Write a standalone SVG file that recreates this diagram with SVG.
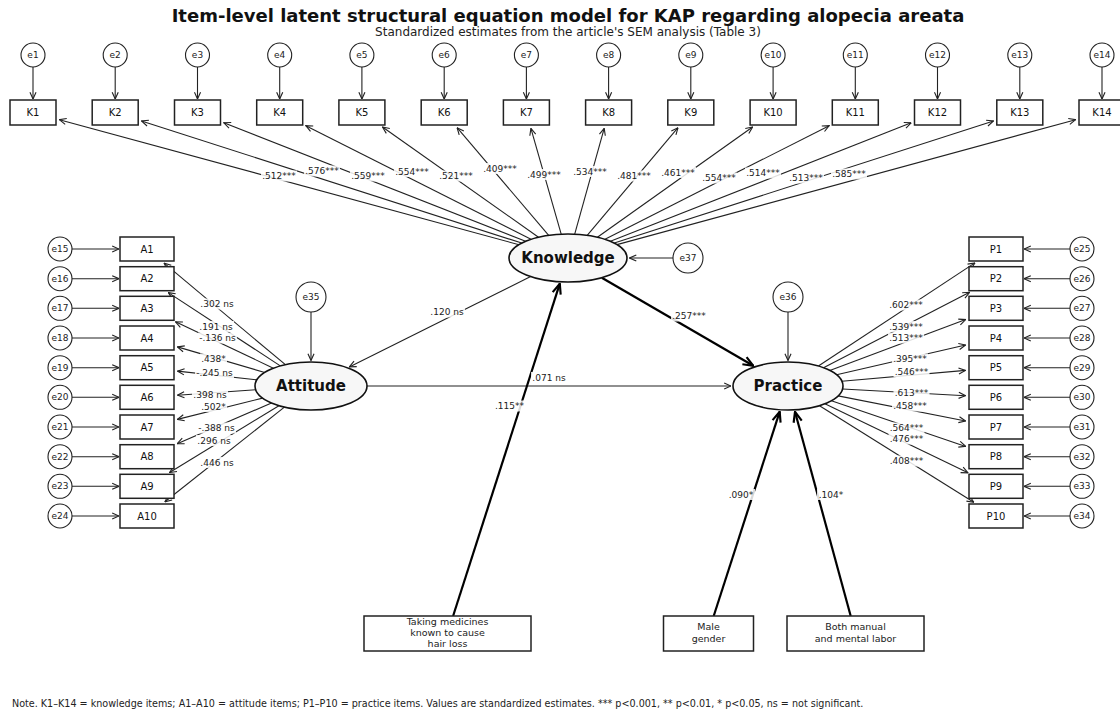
<svg xmlns="http://www.w3.org/2000/svg" width="1120" height="711" viewBox="0 0 1120 711">
<style>
text{font-family:"DejaVu Sans","Liberation Sans",sans-serif;fill:#111}
.title{font-size:18px;font-weight:bold;text-anchor:middle}
.sub{font-size:12px;text-anchor:middle;fill:#222}
.note{font-size:9.6px;fill:#222}
.box{fill:#fff;stroke:#222;stroke-width:1.5}
.err{fill:#fff;stroke:#222;stroke-width:1.1}
.lat{fill:#f7f7f7;stroke:#111;stroke-width:1.6}
.nt{font-size:10px;text-anchor:middle;dominant-baseline:central}
.et{font-size:9px;text-anchor:middle;dominant-baseline:central;fill:#222}
.lt{font-size:15px;font-weight:bold;text-anchor:middle;dominant-baseline:central}
.ct{font-size:9.5px;text-anchor:middle;fill:#222}
.ln{fill:none;stroke:#222;stroke-width:1.1;marker-end:url(#ah)}
.thick{fill:none;stroke:#000;stroke-width:2.2;marker-end:url(#ahb)}
.lbl rect{fill:#fff;fill-opacity:0.85}
.lbl text{font-size:9px;text-anchor:middle;dominant-baseline:central;fill:#222}
</style>
<defs>
<marker id="ah" viewBox="0 0 10 10" refX="9.5" refY="5" markerWidth="8" markerHeight="8" markerUnits="userSpaceOnUse" orient="auto"><path d="M1,1.2 L9.5,5 L1,8.8" fill="none" stroke="#222" stroke-width="1.4"/></marker>
<marker id="ahb" viewBox="0 0 10 10" refX="9.5" refY="5" markerWidth="12" markerHeight="12" markerUnits="userSpaceOnUse" orient="auto"><path d="M1,1.5 L9.5,5 L1,8.5" fill="none" stroke="#000" stroke-width="1.8"/></marker>
</defs>
<rect width="1120" height="711" fill="#fff"/>
<text class="title" x="568" y="22">Item-level latent structural equation model for KAP regarding alopecia areata</text>
<text class="sub" x="568" y="36">Standardized estimates from the article's SEM analysis (Table 3)</text>

<g id="connectors">
<line class="ln" x1="33" y1="67" x2="33" y2="99"/>
<line class="ln" x1="115.2" y1="67" x2="115.2" y2="99"/>
<line class="ln" x1="197.5" y1="67" x2="197.5" y2="99"/>
<line class="ln" x1="279.7" y1="67" x2="279.7" y2="99"/>
<line class="ln" x1="361.9" y1="67" x2="361.9" y2="99"/>
<line class="ln" x1="444.2" y1="67" x2="444.2" y2="99"/>
<line class="ln" x1="526.4" y1="67" x2="526.4" y2="99"/>
<line class="ln" x1="608.6" y1="67" x2="608.6" y2="99"/>
<line class="ln" x1="690.8" y1="67" x2="690.8" y2="99"/>
<line class="ln" x1="773.1" y1="67" x2="773.1" y2="99"/>
<line class="ln" x1="855.3" y1="67" x2="855.3" y2="99"/>
<line class="ln" x1="937.5" y1="67" x2="937.5" y2="99"/>
<line class="ln" x1="1019.8" y1="67" x2="1019.8" y2="99"/>
<line class="ln" x1="1102" y1="67" x2="1102" y2="99"/>
<line class="ln" x1="72" y1="249" x2="119" y2="249"/>
<line class="ln" x1="72" y1="278.7" x2="119" y2="278.7"/>
<line class="ln" x1="72" y1="308.3" x2="119" y2="308.3"/>
<line class="ln" x1="72" y1="338" x2="119" y2="338"/>
<line class="ln" x1="72" y1="367.7" x2="119" y2="367.7"/>
<line class="ln" x1="72" y1="397.3" x2="119" y2="397.3"/>
<line class="ln" x1="72" y1="427" x2="119" y2="427"/>
<line class="ln" x1="72" y1="456.7" x2="119" y2="456.7"/>
<line class="ln" x1="72" y1="486.3" x2="119" y2="486.3"/>
<line class="ln" x1="72" y1="516" x2="119" y2="516"/>
<line class="ln" x1="1070" y1="249" x2="1024" y2="249"/>
<line class="ln" x1="1070" y1="278.7" x2="1024" y2="278.7"/>
<line class="ln" x1="1070" y1="308.3" x2="1024" y2="308.3"/>
<line class="ln" x1="1070" y1="338" x2="1024" y2="338"/>
<line class="ln" x1="1070" y1="367.7" x2="1024" y2="367.7"/>
<line class="ln" x1="1070" y1="397.3" x2="1024" y2="397.3"/>
<line class="ln" x1="1070" y1="427" x2="1024" y2="427"/>
<line class="ln" x1="1070" y1="456.7" x2="1024" y2="456.7"/>
<line class="ln" x1="1070" y1="486.3" x2="1024" y2="486.3"/>
<line class="ln" x1="1070" y1="516" x2="1024" y2="516"/>
<line class="ln" x1="673" y1="258" x2="629.5" y2="258"/>
<line class="ln" x1="311" y1="312" x2="311" y2="360.5"/>
<line class="ln" x1="788" y1="312" x2="788" y2="360.5"/>
<line class="ln" x1="519" y1="244.7" x2="59.4" y2="119.7"/>
<line class="ln" x1="521.7" y1="243.1" x2="141.5" y2="121"/>
<line class="ln" x1="525.6" y1="241.3" x2="223.8" y2="122.8"/>
<line class="ln" x1="531" y1="239.3" x2="305.8" y2="125.7"/>
<line class="ln" x1="538.5" y1="237.2" x2="382.5" y2="127"/>
<line class="ln" x1="548.7" y1="235.3" x2="457.1" y2="127.7"/>
<line class="ln" x1="561.2" y1="234.2" x2="530.9" y2="128.4"/>
<line class="ln" x1="574.7" y1="234.2" x2="604.2" y2="128.4"/>
<line class="ln" x1="587.2" y1="235.3" x2="678" y2="127.7"/>
<line class="ln" x1="597.4" y1="237.2" x2="752.6" y2="127"/>
<line class="ln" x1="605" y1="239.3" x2="829.2" y2="125.7"/>
<line class="ln" x1="610.4" y1="241.3" x2="911.2" y2="122.8"/>
<line class="ln" x1="614.3" y1="243.1" x2="993.5" y2="121"/>
<line class="ln" x1="617" y1="244.6" x2="1075.6" y2="119.7"/>
<line class="ln" x1="285.4" y1="364.7" x2="164.1" y2="263.2"/>
<line class="ln" x1="280.3" y1="365.9" x2="168.3" y2="292.6"/>
<line class="ln" x1="273.4" y1="368.2" x2="175.5" y2="321.8"/>
<line class="ln" x1="264.8" y1="372.5" x2="177.4" y2="346.9"/>
<line class="ln" x1="256.8" y1="379.9" x2="177.5" y2="371.1"/>
<line class="ln" x1="255.7" y1="389.8" x2="177.5" y2="395.2"/>
<line class="ln" x1="262.6" y1="398.1" x2="177.4" y2="419.4"/>
<line class="ln" x1="271.5" y1="403" x2="177.2" y2="443.7"/>
<line class="ln" x1="278.9" y1="405.7" x2="169.6" y2="472.5"/>
<line class="ln" x1="284.4" y1="407.1" x2="164.9" y2="501.8"/>
<line class="ln" x1="818.4" y1="366" x2="974.9" y2="262.9"/>
<line class="ln" x1="823.5" y1="367.7" x2="969.6" y2="292.3"/>
<line class="ln" x1="829.8" y1="370.4" x2="965.7" y2="319.6"/>
<line class="ln" x1="836.6" y1="374.8" x2="965.6" y2="345"/>
<line class="ln" x1="841.9" y1="381.3" x2="965.5" y2="370.4"/>
<line class="ln" x1="842.6" y1="389" x2="965.5" y2="395.7"/>
<line class="ln" x1="838.1" y1="395.9" x2="965.6" y2="421"/>
<line class="ln" x1="831.4" y1="400.7" x2="965.7" y2="446.4"/>
<line class="ln" x1="824.9" y1="403.8" x2="968" y2="472.8"/>
<line class="ln" x1="819.5" y1="405.7" x2="973.8" y2="502.2"/>
<line class="ln" x1="530.7" y1="276.6" x2="349.3" y2="366.9"/>
<line class="ln" x1="367" y1="386" x2="731" y2="386"/>
<line class="thick" x1="601.8" y1="277.7" x2="753.3" y2="365.8"/>
<line class="thick" x1="453.1" y1="616" x2="559.8" y2="283.7"/>
<line class="thick" x1="713.7" y1="616" x2="779.7" y2="411.7"/>
<line class="thick" x1="850.7" y1="616" x2="795" y2="411.8"/>
</g>

<g id="connector-labels" class="lbl">
<rect x="261" y="170.5" width="36" height="11"/><text x="279" y="176">.512***</text>
<rect x="304" y="165.5" width="36" height="11"/><text x="322" y="171">.576***</text>
<rect x="350" y="170.5" width="36" height="11"/><text x="368" y="176">.559***</text>
<rect x="394" y="166" width="36" height="11"/><text x="412" y="171.5">.554***</text>
<rect x="438" y="170.5" width="36" height="11"/><text x="456" y="176">.521***</text>
<rect x="482" y="163" width="36" height="11"/><text x="500" y="168.5">.409***</text>
<rect x="526" y="169" width="36" height="11"/><text x="544" y="174.5">.499***</text>
<rect x="572" y="166" width="36" height="11"/><text x="590" y="171.5">.534***</text>
<rect x="616" y="170.5" width="36" height="11"/><text x="634" y="176">.481***</text>
<rect x="660" y="167" width="36" height="11"/><text x="678" y="172.5">.461***</text>
<rect x="701" y="172.5" width="36" height="11"/><text x="719" y="178">.554***</text>
<rect x="745" y="167.5" width="36" height="11"/><text x="763" y="173">.514***</text>
<rect x="788" y="172.5" width="36" height="11"/><text x="806" y="178">.513***</text>
<rect x="831" y="168.5" width="36" height="11"/><text x="849" y="174">.585***</text>

<rect x="199" y="298.5" width="36" height="11"/><text x="217" y="304">.302 ns</text>
<rect x="198" y="321" width="36" height="11"/><text x="216" y="326.5">.191 ns</text>
<rect x="198" y="332.5" width="39" height="11"/><text x="217.5" y="338">-.136 ns</text>
<rect x="200" y="353.5" width="27" height="11"/><text x="213.5" y="359">.438*</text>
<rect x="195" y="367" width="39" height="11"/><text x="214.5" y="372.5">-.245 ns</text>
<rect x="192" y="389" width="36" height="11"/><text x="210" y="394.5">.398 ns</text>
<rect x="200" y="401" width="27" height="11"/><text x="213.5" y="406.5">.502*</text>
<rect x="197" y="422.5" width="39" height="11"/><text x="216.5" y="428">-.388 ns</text>
<rect x="196" y="435" width="36" height="11"/><text x="214" y="440.5">.296 ns</text>
<rect x="199" y="457" width="36" height="11"/><text x="217" y="462.5">.446 ns</text>

<rect x="888" y="299.5" width="36" height="11"/><text x="906" y="305">.602***</text>
<rect x="888" y="321" width="36" height="11"/><text x="906" y="326.5">.539***</text>
<rect x="888" y="332.5" width="36" height="11"/><text x="906" y="338">.513***</text>
<rect x="892" y="353.5" width="36" height="11"/><text x="910" y="359">.395***</text>
<rect x="893.5" y="366" width="36" height="11"/><text x="911.5" y="371.5">.546***</text>
<rect x="893.5" y="387.5" width="36" height="11"/><text x="911.5" y="393">.613***</text>
<rect x="892" y="400.5" width="36" height="11"/><text x="910" y="406">.458***</text>
<rect x="888.5" y="422.5" width="36" height="11"/><text x="906.5" y="428">.564***</text>
<rect x="888.5" y="433.5" width="36" height="11"/><text x="906.5" y="439">.476***</text>
<rect x="888.5" y="455.5" width="36" height="11"/><text x="906.5" y="461">.408***</text>

<rect x="429" y="306.5" width="36" height="11"/><text x="447" y="312">.120 ns</text>
<rect x="671" y="310.5" width="36" height="11"/><text x="689" y="316">.257***</text>
<rect x="531" y="372" width="36" height="11"/><text x="549" y="377.5">.071 ns</text>
<rect x="493.5" y="400.5" width="32" height="11"/><text x="509.5" y="406">.115**</text>
<rect x="727" y="489" width="28" height="11"/><text x="741" y="494.5">.090*</text>
<rect x="817" y="489" width="28" height="11"/><text x="831" y="494.5">.104*</text>
</g>

<g id="error-nodes">
<g id="e1"><circle class="err" cx="33" cy="55" r="12"/><text class="et" x="33" y="55">e1</text></g>
<g id="e2"><circle class="err" cx="115.2" cy="55" r="12"/><text class="et" x="115.2" y="55">e2</text></g>
<g id="e3"><circle class="err" cx="197.5" cy="55" r="12"/><text class="et" x="197.5" y="55">e3</text></g>
<g id="e4"><circle class="err" cx="279.7" cy="55" r="12"/><text class="et" x="279.7" y="55">e4</text></g>
<g id="e5"><circle class="err" cx="361.9" cy="55" r="12"/><text class="et" x="361.9" y="55">e5</text></g>
<g id="e6"><circle class="err" cx="444.2" cy="55" r="12"/><text class="et" x="444.2" y="55">e6</text></g>
<g id="e7"><circle class="err" cx="526.4" cy="55" r="12"/><text class="et" x="526.4" y="55">e7</text></g>
<g id="e8"><circle class="err" cx="608.6" cy="55" r="12"/><text class="et" x="608.6" y="55">e8</text></g>
<g id="e9"><circle class="err" cx="690.8" cy="55" r="12"/><text class="et" x="690.8" y="55">e9</text></g>
<g id="e10"><circle class="err" cx="773.1" cy="55" r="12"/><text class="et" x="773.1" y="55">e10</text></g>
<g id="e11"><circle class="err" cx="855.3" cy="55" r="12"/><text class="et" x="855.3" y="55">e11</text></g>
<g id="e12"><circle class="err" cx="937.5" cy="55" r="12"/><text class="et" x="937.5" y="55">e12</text></g>
<g id="e13"><circle class="err" cx="1019.8" cy="55" r="12"/><text class="et" x="1019.8" y="55">e13</text></g>
<g id="e14"><circle class="err" cx="1102" cy="55" r="12"/><text class="et" x="1102" y="55">e14</text></g>
<g id="e15"><circle class="err" cx="60" cy="249" r="12"/><text class="et" x="60" y="249">e15</text></g>
<g id="e16"><circle class="err" cx="60" cy="278.7" r="12"/><text class="et" x="60" y="278.7">e16</text></g>
<g id="e17"><circle class="err" cx="60" cy="308.3" r="12"/><text class="et" x="60" y="308.3">e17</text></g>
<g id="e18"><circle class="err" cx="60" cy="338" r="12"/><text class="et" x="60" y="338">e18</text></g>
<g id="e19"><circle class="err" cx="60" cy="367.7" r="12"/><text class="et" x="60" y="367.7">e19</text></g>
<g id="e20"><circle class="err" cx="60" cy="397.3" r="12"/><text class="et" x="60" y="397.3">e20</text></g>
<g id="e21"><circle class="err" cx="60" cy="427" r="12"/><text class="et" x="60" y="427">e21</text></g>
<g id="e22"><circle class="err" cx="60" cy="456.7" r="12"/><text class="et" x="60" y="456.7">e22</text></g>
<g id="e23"><circle class="err" cx="60" cy="486.3" r="12"/><text class="et" x="60" y="486.3">e23</text></g>
<g id="e24"><circle class="err" cx="60" cy="516" r="12"/><text class="et" x="60" y="516">e24</text></g>
<g id="e25"><circle class="err" cx="1082" cy="249" r="12"/><text class="et" x="1082" y="249">e25</text></g>
<g id="e26"><circle class="err" cx="1082" cy="278.7" r="12"/><text class="et" x="1082" y="278.7">e26</text></g>
<g id="e27"><circle class="err" cx="1082" cy="308.3" r="12"/><text class="et" x="1082" y="308.3">e27</text></g>
<g id="e28"><circle class="err" cx="1082" cy="338" r="12"/><text class="et" x="1082" y="338">e28</text></g>
<g id="e29"><circle class="err" cx="1082" cy="367.7" r="12"/><text class="et" x="1082" y="367.7">e29</text></g>
<g id="e30"><circle class="err" cx="1082" cy="397.3" r="12"/><text class="et" x="1082" y="397.3">e30</text></g>
<g id="e31"><circle class="err" cx="1082" cy="427" r="12"/><text class="et" x="1082" y="427">e31</text></g>
<g id="e32"><circle class="err" cx="1082" cy="456.7" r="12"/><text class="et" x="1082" y="456.7">e32</text></g>
<g id="e33"><circle class="err" cx="1082" cy="486.3" r="12"/><text class="et" x="1082" y="486.3">e33</text></g>
<g id="e34"><circle class="err" cx="1082" cy="516" r="12"/><text class="et" x="1082" y="516">e34</text></g>
<g id="e35"><circle class="err" cx="311" cy="297" r="15"/><text class="et" x="311" y="297">e35</text></g>
<g id="e36"><circle class="err" cx="788" cy="297" r="15"/><text class="et" x="788" y="297">e36</text></g>
<g id="e37"><circle class="err" cx="688" cy="258" r="15"/><text class="et" x="688" y="258">e37</text></g>
</g>

<g id="knowledge-items">
<g id="K1"><rect class="box" x="10" y="100" width="46" height="25"/><text class="nt" x="33" y="112.5">K1</text></g>
<g id="K2"><rect class="box" x="92.2" y="100" width="46" height="25"/><text class="nt" x="115.2" y="112.5">K2</text></g>
<g id="K3"><rect class="box" x="174.5" y="100" width="46" height="25"/><text class="nt" x="197.5" y="112.5">K3</text></g>
<g id="K4"><rect class="box" x="256.7" y="100" width="46" height="25"/><text class="nt" x="279.7" y="112.5">K4</text></g>
<g id="K5"><rect class="box" x="338.9" y="100" width="46" height="25"/><text class="nt" x="361.9" y="112.5">K5</text></g>
<g id="K6"><rect class="box" x="421.2" y="100" width="46" height="25"/><text class="nt" x="444.2" y="112.5">K6</text></g>
<g id="K7"><rect class="box" x="503.4" y="100" width="46" height="25"/><text class="nt" x="526.4" y="112.5">K7</text></g>
<g id="K8"><rect class="box" x="585.6" y="100" width="46" height="25"/><text class="nt" x="608.6" y="112.5">K8</text></g>
<g id="K9"><rect class="box" x="667.8" y="100" width="46" height="25"/><text class="nt" x="690.8" y="112.5">K9</text></g>
<g id="K10"><rect class="box" x="750.1" y="100" width="46" height="25"/><text class="nt" x="773.1" y="112.5">K10</text></g>
<g id="K11"><rect class="box" x="832.3" y="100" width="46" height="25"/><text class="nt" x="855.3" y="112.5">K11</text></g>
<g id="K12"><rect class="box" x="914.5" y="100" width="46" height="25"/><text class="nt" x="937.5" y="112.5">K12</text></g>
<g id="K13"><rect class="box" x="996.8" y="100" width="46" height="25"/><text class="nt" x="1019.8" y="112.5">K13</text></g>
<g id="K14"><rect class="box" x="1079" y="100" width="46" height="25"/><text class="nt" x="1102" y="112.5">K14</text></g>
</g>

<g id="attitude-items">
<g id="A1"><rect class="box" x="120" y="237" width="54" height="24"/><text class="nt" x="147" y="249">A1</text></g>
<g id="A2"><rect class="box" x="120" y="266.7" width="54" height="24"/><text class="nt" x="147" y="278.7">A2</text></g>
<g id="A3"><rect class="box" x="120" y="296.3" width="54" height="24"/><text class="nt" x="147" y="308.3">A3</text></g>
<g id="A4"><rect class="box" x="120" y="326" width="54" height="24"/><text class="nt" x="147" y="338">A4</text></g>
<g id="A5"><rect class="box" x="120" y="355.7" width="54" height="24"/><text class="nt" x="147" y="367.7">A5</text></g>
<g id="A6"><rect class="box" x="120" y="385.3" width="54" height="24"/><text class="nt" x="147" y="397.3">A6</text></g>
<g id="A7"><rect class="box" x="120" y="415" width="54" height="24"/><text class="nt" x="147" y="427">A7</text></g>
<g id="A8"><rect class="box" x="120" y="444.7" width="54" height="24"/><text class="nt" x="147" y="456.7">A8</text></g>
<g id="A9"><rect class="box" x="120" y="474.3" width="54" height="24"/><text class="nt" x="147" y="486.3">A9</text></g>
<g id="A10"><rect class="box" x="120" y="504" width="54" height="24"/><text class="nt" x="147" y="516">A10</text></g>
</g>

<g id="practice-items">
<g id="P1"><rect class="box" x="969" y="237" width="54" height="24"/><text class="nt" x="996" y="249">P1</text></g>
<g id="P2"><rect class="box" x="969" y="266.7" width="54" height="24"/><text class="nt" x="996" y="278.7">P2</text></g>
<g id="P3"><rect class="box" x="969" y="296.3" width="54" height="24"/><text class="nt" x="996" y="308.3">P3</text></g>
<g id="P4"><rect class="box" x="969" y="326" width="54" height="24"/><text class="nt" x="996" y="338">P4</text></g>
<g id="P5"><rect class="box" x="969" y="355.7" width="54" height="24"/><text class="nt" x="996" y="367.7">P5</text></g>
<g id="P6"><rect class="box" x="969" y="385.3" width="54" height="24"/><text class="nt" x="996" y="397.3">P6</text></g>
<g id="P7"><rect class="box" x="969" y="415" width="54" height="24"/><text class="nt" x="996" y="427">P7</text></g>
<g id="P8"><rect class="box" x="969" y="444.7" width="54" height="24"/><text class="nt" x="996" y="456.7">P8</text></g>
<g id="P9"><rect class="box" x="969" y="474.3" width="54" height="24"/><text class="nt" x="996" y="486.3">P9</text></g>
<g id="P10"><rect class="box" x="969" y="504" width="54" height="24"/><text class="nt" x="996" y="516">P10</text></g>
</g>

<g id="latents">
<g id="Knowledge"><ellipse class="lat" cx="568" cy="258" rx="59" ry="24"/><text class="lt" x="568" y="258">Knowledge</text></g>
<g id="Attitude"><ellipse class="lat" cx="311" cy="386" rx="56" ry="24"/><text class="lt" x="311" y="386">Attitude</text></g>
<g id="Practice"><ellipse class="lat" cx="788" cy="386" rx="55" ry="24"/><text class="lt" x="788" y="386">Practice</text></g>
</g>

<g id="covariates">
<g id="medicines"><rect class="box" x="364" y="616" width="167" height="35"/><text class="ct" x="447.5" y="625">Taking medicines<tspan x="447.5" dy="11">known to cause</tspan><tspan x="447.5" dy="11">hair loss</tspan></text></g>
<g id="male"><rect class="box" x="663.5" y="616" width="90" height="35"/><text class="ct" x="708.5" y="630">Male<tspan x="708.5" dy="11.5">gender</tspan></text></g>
<g id="labor"><rect class="box" x="787" y="616" width="137" height="35"/><text class="ct" x="855.5" y="630">Both manual<tspan x="855.5" dy="11.5">and mental labor</tspan></text></g>
</g>

<text class="note" x="12" y="706.5">Note. K1–K14 = knowledge items; A1–A10 = attitude items; P1–P10 = practice items. Values are standardized estimates. *** p&lt;0.001, ** p&lt;0.01, * p&lt;0.05, ns = not significant.</text>
</svg>
